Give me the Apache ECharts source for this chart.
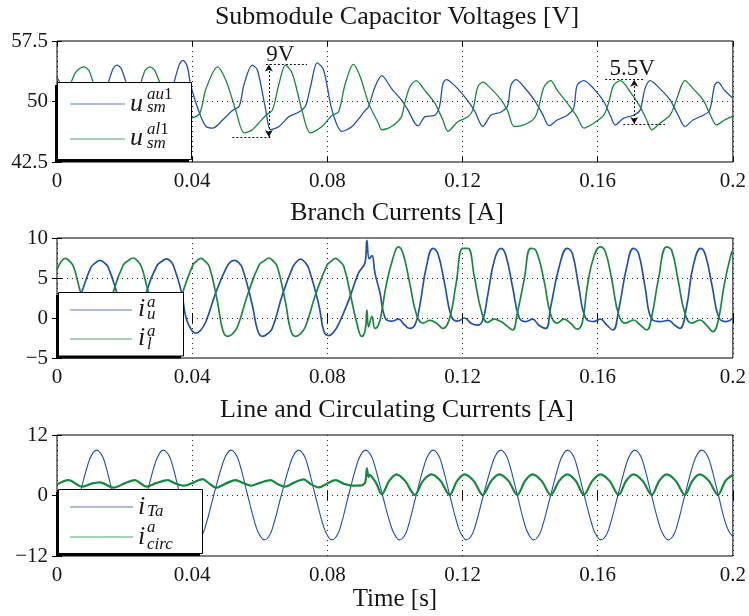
<!DOCTYPE html>
<html>
<head>
<meta charset="utf-8">
<script src="https://cdn.jsdelivr.net/npm/echarts@6/dist/echarts.min.js"></script>
<style>
  html, body { margin: 0; padding: 0; background: #fff; }
  #chart { width: 749px; height: 616px; }
</style>
</head>
<body>
<div id="chart"></div>
<script>
// ---- Tick labels -------------------------------------------------------
const timeTicks = [0, 0.04, 0.08, 0.12, 0.16, 0.2];
const capTicks = [42.5, 50, 57.5];
const branchTicks = [-5, 0, 5, 10];
const lineTicks = [-12, 0, 12];

// ---- Submodule capacitor voltages [V] -----------------------------------
const capUpperTime = [0, 0.003, 0.006, 0.009, 0.012, 0.0145, 0.0165, 0.0177, 0.019, 0.0215,
  0.025, 0.028, 0.031, 0.034, 0.0362, 0.0373, 0.0385, 0.0397, 0.0422, 0.0441,
  0.0461, 0.049, 0.052, 0.0539, 0.0554, 0.0578, 0.0593, 0.0618, 0.0632, 0.0657,
  0.0686, 0.0716, 0.0735, 0.075, 0.077, 0.0789, 0.0814, 0.0843, 0.0873, 0.0912,
  0.0921, 0.0941, 0.0961, 0.099, 0.1019, 0.1039, 0.1059, 0.1069, 0.1088, 0.1118,
  0.1132, 0.1142, 0.1152, 0.1176, 0.1206, 0.1235, 0.126, 0.1284, 0.1314, 0.1333,
  0.1343, 0.1358, 0.1382, 0.1412, 0.1436, 0.1456, 0.148, 0.151, 0.1529, 0.1539,
  0.1559, 0.1588, 0.1618, 0.1637, 0.1652, 0.1676, 0.1706, 0.1725, 0.174, 0.1755,
  0.1784, 0.1814, 0.1838, 0.1858, 0.1882, 0.1912, 0.1931, 0.1946, 0.1956, 0.1975,
  0.1995, 0.2];
const capUpper = [53.0, 50.6, 47.6, 46.4, 47.4, 51.3, 54.0, 54.5, 54.1, 51.0,
  47.5, 46.4, 47.6, 51.4, 54.6, 55.1, 54.4, 51.8, 48.5, 46.9,
  46.7, 47.7, 48.9, 49.4, 52.2, 54.5, 53.9, 48.9, 46.5, 46.9,
  48.1, 48.7, 49.4, 51.8, 54.8, 53.9, 48.9, 46.3, 46.9, 48.9,
  49.3, 51.8, 53.2, 51.6, 50.2, 48.9, 47.3, 47.0, 48.1, 48.3,
  49.4, 52.2, 52.7, 52.0, 50.6, 48.9, 46.9, 48.3, 48.7, 49.4,
  52.0, 52.7, 51.8, 50.2, 48.5, 47.0, 47.7, 48.3, 49.2, 52.0,
  52.6, 51.6, 50.0, 48.3, 47.1, 47.9, 48.3, 48.9, 51.6, 52.6,
  51.6, 50.2, 48.3, 46.9, 47.7, 48.3, 48.9, 52.0, 52.4, 51.4,
  50.6, 50.4];

const capLowerTime = [0, 0.003, 0.0055, 0.0079, 0.0095, 0.012, 0.015, 0.018, 0.021, 0.024,
  0.026, 0.0275, 0.029, 0.032, 0.035, 0.0375, 0.0397, 0.0422, 0.0441, 0.0475,
  0.05, 0.0529, 0.0554, 0.0578, 0.0618, 0.0637, 0.0657, 0.0676, 0.0696, 0.0725,
  0.075, 0.0784, 0.0814, 0.0833, 0.0853, 0.0877, 0.0897, 0.0922, 0.0951, 0.0961,
  0.099, 0.1019, 0.1029, 0.1044, 0.1063, 0.1088, 0.1118, 0.1142, 0.1157, 0.1186,
  0.1216, 0.123, 0.1245, 0.126, 0.1284, 0.1314, 0.1333, 0.1353, 0.1382, 0.1412,
  0.1426, 0.1441, 0.1461, 0.148, 0.151, 0.1539, 0.1559, 0.1588, 0.1618, 0.1632,
  0.1647, 0.1667, 0.1696, 0.1725, 0.1745, 0.176, 0.1784, 0.1814, 0.1833, 0.1848,
  0.1858, 0.1882, 0.1912, 0.1936, 0.1951, 0.1975, 0.1995, 0.2];
const capLower = [48.3, 51.0, 53.6, 54.3, 53.8, 50.5, 47.2, 46.3, 47.3, 51.0,
  53.8, 54.3, 53.8, 50.5, 47.5, 47.6, 47.9, 48.5, 51.6, 54.3,
  52.6, 48.9, 46.1, 46.5, 48.3, 48.9, 52.2, 54.5, 53.5, 48.9,
  46.1, 46.9, 48.3, 48.7, 52.2, 54.6, 53.1, 49.8, 47.3, 46.5,
  46.9, 48.1, 49.8, 51.8, 52.6, 51.4, 49.8, 47.7, 46.3, 47.5,
  48.1, 48.9, 51.8, 52.4, 51.6, 50.2, 48.9, 46.9, 47.1, 47.9,
  49.4, 51.8, 52.6, 51.4, 49.8, 48.1, 46.7, 47.3, 48.3, 49.8,
  52.0, 52.6, 51.2, 49.4, 47.7, 46.5, 47.3, 48.3, 50.2, 52.0,
  52.6, 51.6, 50.2, 48.1, 47.1, 47.7, 48.1, 48.2];

// ---- Branch currents [A] ------------------------------------------------
const branchUpperTime = [0, 0.0028, 0.0055, 0.0074, 0.01, 0.0114, 0.0127, 0.014, 0.0152, 0.0176,
  0.02, 0.0226, 0.0245, 0.0265, 0.0295, 0.0311, 0.0324, 0.0336, 0.0345, 0.0368,
  0.0382, 0.0398, 0.0412, 0.0426, 0.0441, 0.0471, 0.05, 0.0512, 0.0525, 0.0537,
  0.0549, 0.0578, 0.0594, 0.0608, 0.0622, 0.0637, 0.0667, 0.0696, 0.0708, 0.0721,
  0.0733, 0.0745, 0.0775, 0.079, 0.0804, 0.0818, 0.0833, 0.0863, 0.0892, 0.0912,
  0.0917, 0.0924, 0.0932, 0.0941, 0.0956, 0.0971, 0.099, 0.101, 0.1029, 0.1044,
  0.1059, 0.1073, 0.1093, 0.1113, 0.1127, 0.1147, 0.1167, 0.1186, 0.1206, 0.1225,
  0.1245, 0.126, 0.1274, 0.1294, 0.1314, 0.1328, 0.1348, 0.1368, 0.1387, 0.1407,
  0.1426, 0.1446, 0.1461, 0.1486, 0.151, 0.1525, 0.1544, 0.1564, 0.1588, 0.1608,
  0.1627, 0.1645, 0.1662, 0.1686, 0.1706, 0.1721, 0.174, 0.176, 0.1784, 0.1809,
  0.1828, 0.1843, 0.1863, 0.1882, 0.1905, 0.1919, 0.1939, 0.1959, 0.198, 0.2];
const branchUpper = [-1.5, -2.0, 0.6, 3.3, 6.3, 6.9, 7.2, 6.9, 6.3, 3.3,
  0.0, -2.0, -0.6, 3.3, 6.5, 7.1, 7.4, 7.1, 6.5, 3.3,
  0.0, -1.5, -1.9, -1.5, -0.4, 3.3, 6.2, 6.95, 7.2, 6.95,
  6.2, 1.6, -1.6, -2.3, -2.0, -1.3, 2.9, 6.2, 7.0, 7.35,
  7.0, 6.2, 1.6, -1.7, -2.2, -1.8, -0.8, 2.2, 5.6, 7.0,
  9.7, 7.4, 7.8, 5.6, 3.1, 0.0, -0.4, -0.15, -0.9, -1.3,
  -0.9, 1.4, 6.4, 8.7, 8.05, 4.3, 0.2, -0.4, 0.0, -0.65,
  -0.9, -0.25, 2.7, 7.2, 8.7, 7.85, 3.9, 0.0, -0.45, -0.15,
  -0.9, -1.3, 1.4, 6.4, 8.7, 8.05, 3.9, 0.0, -0.45, -0.15,
  -0.9, -1.5, 1.0, 6.4, 8.7, 8.05, 3.9, -0.15, -0.45, -0.3,
  -0.9, -1.3, 1.4, 6.4, 8.7, 7.85, 3.9, 0.0, -0.45, 0.0];

const branchLowerTime = [0, 0.0013, 0.0025, 0.0037, 0.0049, 0.0069, 0.0097, 0.0125, 0.0145, 0.0167,
  0.0196, 0.0212, 0.0225, 0.0238, 0.025, 0.027, 0.0298, 0.0325, 0.035, 0.0373,
  0.0402, 0.0414, 0.0426, 0.0438, 0.0451, 0.0475, 0.0491, 0.0505, 0.0519, 0.0534,
  0.0564, 0.0598, 0.0615, 0.0627, 0.064, 0.0652, 0.0676, 0.0692, 0.0706, 0.072,
  0.0735, 0.0765, 0.0799, 0.0812, 0.0824, 0.0836, 0.0849, 0.0873, 0.0887, 0.0902,
  0.0912, 0.0917, 0.0922, 0.0932, 0.0941, 0.0951, 0.096, 0.0975, 0.0995, 0.101,
  0.1024, 0.1044, 0.1064, 0.1083, 0.1103, 0.1123, 0.1142, 0.1162, 0.1181, 0.1201,
  0.1216, 0.1235, 0.1255, 0.1274, 0.1294, 0.1314, 0.1333, 0.1348, 0.1362, 0.1382,
  0.1402, 0.1417, 0.1441, 0.1461, 0.148, 0.15, 0.152, 0.1539, 0.1554, 0.1569,
  0.1588, 0.1608, 0.1623, 0.1642, 0.1662, 0.1681, 0.1706, 0.1725, 0.1745, 0.176,
  0.1779, 0.1804, 0.1819, 0.1838, 0.1858, 0.1878, 0.1902, 0.1921, 0.1941, 0.1956,
  0.1975, 0.1995, 0.2];
const branchLower = [6.0, 7.1, 7.45, 7.1, 6.4, 3.3, -0.5, -2.2, -0.6, 3.3,
  6.6, 7.2, 7.5, 7.15, 6.4, 3.3, -0.5, -2.2, -0.3, 3.3,
  6.6, 7.15, 7.45, 7.1, 6.4, 2.0, -1.6, -2.3, -2.0, -1.1,
  2.9, 6.6, 7.2, 7.5, 7.1, 6.4, 2.0, -1.6, -2.3, -2.0,
  -1.1, 2.9, 6.6, 7.1, 7.45, 7.1, 6.4, 2.0, -0.6, -2.3,
  -1.5, 1.0, -1.1, 0.2, -1.3, -0.9, 0.6, 4.3, 7.6, 8.9,
  8.05, 4.3, 0.4, -0.65, -0.3, -0.65, -1.3, 0.0, 4.3, 8.7,
  8.7, 5.15, 1.0, -0.55, -0.15, -0.45, -1.05, -1.5, 0.6, 4.7,
  8.7, 8.45, 4.7, 0.4, -0.65, -0.15, -0.65, -1.4, -0.65, 3.9,
  7.6, 8.9, 8.25, 4.7, 0.4, -0.65, -0.25, -0.85, -1.5, 0.2,
  4.7, 8.9, 8.45, 4.7, 0.6, -0.65, -0.25, -0.85, -1.7, -0.45,
  4.3, 8.05, 8.4];

// ---- Line and circulating currents [A] ----------------------------------
const lineCurrentTime = [0, 0.0017, 0.003, 0.0042, 0.0067, 0.0092, 0.0105, 0.0117, 0.013, 0.0142,
  0.0166, 0.0191, 0.0204, 0.0216, 0.0229, 0.0241, 0.0265, 0.029, 0.0303, 0.0315,
  0.0328, 0.034, 0.0364, 0.0389, 0.0402, 0.0414, 0.0427, 0.0439, 0.0464, 0.049,
  0.0503, 0.0515, 0.0528, 0.054, 0.0564, 0.0589, 0.0602, 0.0614, 0.0627, 0.0639,
  0.0664, 0.069, 0.0703, 0.0715, 0.0728, 0.074, 0.0764, 0.0789, 0.0802, 0.0814,
  0.0827, 0.0839, 0.0863, 0.0888, 0.0901, 0.0913, 0.0926, 0.0938, 0.0963, 0.0989,
  0.1002, 0.1014, 0.1027, 0.1039, 0.1063, 0.1088, 0.1101, 0.1113, 0.1126, 0.1138,
  0.1162, 0.1187, 0.12, 0.1212, 0.1225, 0.1237, 0.1262, 0.1288, 0.1301, 0.1313,
  0.1326, 0.1338, 0.1362, 0.1386, 0.1399, 0.1411, 0.1424, 0.1436, 0.1461, 0.1486,
  0.1499, 0.1511, 0.1524, 0.1536, 0.156, 0.1585, 0.1598, 0.161, 0.1623, 0.1635,
  0.166, 0.1685, 0.1698, 0.171, 0.1723, 0.1735, 0.1759, 0.1784, 0.1797, 0.1809,
  0.1822, 0.1834, 0.1858, 0.1883, 0.1896, 0.1908, 0.1921, 0.1933, 0.1957, 0.1982,
  0.2];
const lineCurrent = [-8.6, -8.8, -8.1, -6.2, 0.1, 6.3, 8.3, 9.0, 8.3, 6.4,
  0.1, -6.2, -8.1, -8.8, -8.1, -6.2, 0.1, 6.3, 8.3, 9.0,
  8.3, 6.4, 0.1, -6.2, -8.1, -8.8, -8.1, -6.2, 0.1, 6.3,
  8.3, 9.0, 8.3, 6.4, 0.1, -6.2, -8.1, -8.8, -8.1, -6.2,
  0.1, 6.3, 8.3, 9.0, 8.3, 6.4, 0.1, -6.2, -8.1, -8.8,
  -8.1, -6.2, 0.1, 6.3, 8.3, 9.0, 8.3, 6.4, 0.1, -6.2,
  -8.1, -8.8, -8.1, -6.2, 0.1, 6.3, 8.3, 9.0, 8.3, 6.4,
  0.1, -6.2, -8.1, -8.8, -8.1, -6.2, 0.1, 6.3, 8.3, 9.0,
  8.3, 6.4, 0.1, -6.2, -8.1, -8.8, -8.1, -6.2, 0.1, 6.3,
  8.3, 9.0, 8.3, 6.4, 0.1, -6.2, -8.1, -8.8, -8.1, -6.2,
  0.1, 6.3, 8.3, 9.0, 8.3, 6.4, 0.1, -6.2, -8.1, -8.8,
  -8.1, -6.2, 0.1, 6.3, 8.3, 9.0, 8.3, 6.4, 0.1, -6.2,
  -8.2];

const circTime = [0, 0.0034, 0.0074, 0.01, 0.0127, 0.0167, 0.02, 0.023, 0.0265, 0.0295,
  0.0328, 0.035, 0.0377, 0.0405, 0.0431, 0.045, 0.047, 0.05, 0.0529, 0.055,
  0.0574, 0.06, 0.0632, 0.0655, 0.0676, 0.07, 0.073, 0.075, 0.0775, 0.08,
  0.0824, 0.085, 0.0873, 0.09, 0.0912, 0.0917, 0.0922, 0.0926, 0.0935, 0.0945,
  0.0961, 0.0983, 0.1005, 0.103, 0.1059, 0.1083, 0.1108, 0.1135, 0.1162, 0.1184,
  0.1206, 0.1233, 0.126, 0.1285, 0.1309, 0.1336, 0.1362, 0.1385, 0.1407, 0.1434,
  0.1461, 0.1486, 0.151, 0.1535, 0.1559, 0.1584, 0.1608, 0.1635, 0.1662, 0.1684,
  0.1706, 0.1733, 0.176, 0.1782, 0.1804, 0.1831, 0.1858, 0.188, 0.1902, 0.1929,
  0.1956, 0.1978, 0.2];
const circ = [2.2, 3.05, 1.75, 2.3, 2.6, 1.55, 2.4, 3.05, 1.75, 2.5,
  3.05, 2.4, 1.95, 2.6, 3.25, 2.4, 1.55, 2.4, 3.05, 2.5,
  1.95, 2.5, 3.05, 2.2, 1.75, 2.5, 3.2, 2.3, 1.6, 2.4,
  3.05, 2.3, 1.95, 2.0, 2.6, 5.4, 3.7, 4.1, 3.4, 2.4,
  0.2, 2.9, 4.2, 2.9, 0.1, 2.9, 4.2, 2.9, 0.1, 2.9,
  4.2, 2.9, 0.1, 2.9, 4.2, 2.9, 0.1, 2.9, 4.2, 2.9,
  0.1, 2.9, 4.2, 2.9, 0.1, 2.9, 4.2, 2.9, 0.1, 2.9,
  4.2, 2.9, 0.1, 2.9, 4.2, 2.9, 0.1, 2.9, 4.2, 2.9,
  0.1, 2.9, 4.1];

// ---- Ripple markers on the capacitor plot -------------------------------
const rippleA = { label: '9V', t: 0.0627, low: 45.6, high: 54.6,
  highFrom: 0.0618, highTo: 0.074, lowFrom: 0.0519, lowTo: 0.0637, textAt: [0.0661, 55.8] };
const rippleB = { label: '5.5V', t: 0.1708, low: 47.2, high: 52.7,
  highFrom: 0.1622, highTo: 0.1735, lowFrom: 0.1676, lowTo: 0.1799, textAt: [0.1702, 54.0] };

// ---- Styling ------------------------------------------------------------
const FONT = '"Liberation Serif", "Times New Roman", serif';
const BLUE = '#2153a8';
const GREEN = '#17893f';
const INK = '#161616';

const zip = (ts, vs) => ts.map((t, i) => [t, vs[i]]);
const minus = v => String(v).replace('-', '\u2212');

const grids = [
  { left: 57, top: 41, width: 680, height: 121 },
  { left: 57, top: 238, width: 680, height: 120 },
  { left: 57, top: 435, width: 680, height: 121 }
].map(g => Object.assign(g, { show: true, borderColor: '#000', borderWidth: 1, backgroundColor: 'transparent' }));

const dotted = { type: [1, 4], color: '#222', width: 1 };

const xAxes = [];
[0, 1, 2].forEach(g => {
  xAxes.push({
    type: 'value', gridIndex: g, min: 0, max: 0.2, interval: 0.04, position: 'bottom',
    axisLine: { show: false },
    axisTick: { inside: true, length: 5, lineStyle: { color: '#000' } },
    axisLabel: { margin: 9, fontSize: 21, fontFamily: FONT, color: INK,
      formatter: v => String(+v.toFixed(2)) },
    splitLine: { show: true, lineStyle: dotted },
    name: g === 2 ? 'Time [s]' : '',
    nameLocation: 'middle', nameGap: 27,
    nameTextStyle: { fontSize: 25, fontFamily: FONT, color: INK }
  });
});
[0, 1, 2].forEach(g => {
  xAxes.push({
    type: 'value', gridIndex: g, min: 0, max: 0.2, interval: 0.04, position: 'top',
    axisLine: { show: false }, axisLabel: { show: false }, splitLine: { show: false },
    axisTick: { inside: true, length: 5, lineStyle: { color: '#000' } }
  });
});

const yRanges = [
  { min: 42.5, max: 57.5, ticks: capTicks },
  { min: -5, max: 10, interval: 5, ticks: branchTicks },
  { min: -12, max: 12, interval: 12, ticks: lineTicks }
];
const yAxes = [];
['left', 'right'].forEach(side => {
  yRanges.forEach((r, g) => {
    const ax = {
      type: 'value', gridIndex: g, min: r.min, max: r.max, position: side,
      axisLine: { show: false }, splitLine: { show: false },
      axisTick: { inside: true, length: 5, lineStyle: { color: '#000' }, customValues: r.ticks },
      axisLabel: { show: side === 'left', margin: 9, fontSize: 21, fontFamily: FONT, color: INK,
        formatter: minus, customValues: r.ticks }
    };
    if (r.interval) ax.interval = r.interval;
    yAxes.push(ax);
  });
});

// horizontal dotted grid lines at the inner ticks
const hGrid = vals => ({
  silent: true, symbol: ['none', 'none'], label: { show: false },
  lineStyle: dotted, data: vals.map(v => ({ yAxis: v }))
});

const annotDash = { type: [2, 2], color: '#111', width: 1 };
const rippleLines = r => [
  [{ coord: [r.highFrom, r.high] }, { coord: [r.highTo, r.high] }],
  [{ coord: [r.lowFrom, r.low] }, { coord: [r.lowTo, r.low] }],
  [{ coord: [r.t, r.low], symbol: 'arrow', symbolSize: [6, 7] },
   { coord: [r.t, r.high], symbol: 'arrow', symbolSize: [6, 7] }]
];

const lineSeries = (name, data, color, width, xi, yi, smooth, extra) => Object.assign({
  name, type: 'line', data, xAxisIndex: xi, yAxisIndex: yi,
  showSymbol: false, symbol: 'none', smooth, animation: false,
  lineStyle: { color, width }, itemStyle: { color }
}, extra || {});

const series = [
  lineSeries('u_sm^au1', zip(capUpperTime, capUpper), BLUE, 1.3, 0, 0, 0.3, { markLine: hGrid([50]) }),
  lineSeries('u_sm^al1', zip(capLowerTime, capLower), GREEN, 1.3, 0, 0, 0.3, {
    markLine: { silent: true, symbol: ['none', 'none'], label: { show: false }, lineStyle: annotDash,
      data: rippleLines(rippleA).concat(rippleLines(rippleB)) },
    markPoint: { silent: true, symbol: 'rect', symbolSize: 1, itemStyle: { color: 'rgba(0,0,0,0)' },
      label: { show: true, position: 'inside', formatter: '{b}', fontSize: 23, fontFamily: FONT, color: INK },
      data: [rippleA, rippleB].map(r => ({ name: r.label, coord: r.textAt })) }
  }),
  lineSeries('i_u^a', zip(branchUpperTime, branchUpper), BLUE, 1.7, 1, 1, 0.45, { markLine: hGrid([0, 5]) }),
  lineSeries('i_l^a', zip(branchLowerTime, branchLower), GREEN, 1.7, 1, 1, 0.45),
  lineSeries('i_Ta', zip(lineCurrentTime, lineCurrent), BLUE, 1.1, 2, 2, 0.5, { markLine: hGrid([0]) }),
  lineSeries('i_circ^a', zip(circTime, circ), GREEN, 2.2, 2, 2, 0.3)
];

// ---- Legend boxes with sub/superscripted symbols -------------------------
const txt = (x, y, text, size, italic) => ({
  type: 'text', x, y, z: 60,
  style: { text, fill: INK, verticalAlign: 'middle', align: 'left',
    font: (italic ? 'italic ' : '') + size + 'px ' + FONT }
});
const richTxt = (x, y, text) => ({
  type: 'text', x, y, z: 60,
  style: { text, fill: INK, verticalAlign: 'middle', align: 'left',
    rich: { i: { fontStyle: 'italic', fontSize: 17, fontFamily: FONT, fill: INK },
            n: { fontSize: 17, fontFamily: FONT, fill: INK } } }
});
const box = (x, y, w, h) => [
  { type: 'rect', z: 55, shape: { x: x - 2.5, y: y + 2.5, width: w, height: h }, style: { fill: '#000' } },
  { type: 'rect', z: 56, shape: { x, y, width: w, height: h }, style: { fill: '#fff', stroke: '#000', lineWidth: 1 } }
];
const sample = (x1, x2, y, color) => ({
  type: 'line', z: 58, shape: { x1, y1: y, x2, y2: y },
  style: { stroke: color, lineWidth: 1.1, opacity: 0.75 }
});

const graphic = [].concat(
  box(57.5, 82.5, 134, 77),
  [sample(70, 125, 104, BLUE), sample(70, 125, 139, GREEN),
   txt(130, 104, 'u', 26, true), richTxt(147, 94.6, '{i|au}{n|1}'), txt(147, 108, 'sm', 17, true),
   txt(130, 138.4, 'u', 26, true), richTxt(147, 129.6, '{i|al}{n|1}'), txt(147, 143.6, 'sm', 17, true)],
  box(58.5, 292.5, 125, 63.5),
  [sample(70, 132, 310, BLUE), sample(70, 132, 339, GREEN),
   txt(138, 309.4, 'i', 26, true), txt(147, 302.3, 'a', 17, true), txt(147, 314.6, 'u', 17, true),
   txt(138, 338.4, 'i', 26, true), txt(147, 331.3, 'a', 17, true), txt(147, 344.6, 'l', 17, true)],
  box(58.5, 489.5, 144, 64),
  [sample(70, 133, 507, BLUE), sample(70, 133, 537, GREEN),
   txt(138, 506.7, 'i', 26, true), txt(147, 511.3, 'Ta', 17, true),
   txt(138, 536.7, 'i', 26, true), txt(147, 527.9, 'a', 17, true), txt(147, 544.6, 'circ', 17, true)]
);

const titleStyle = { fontSize: 26, fontWeight: 'normal', fontFamily: FONT, color: INK };
const titles = [
  { text: 'Submodule Capacitor Voltages [V]', top: 4 },
  { text: 'Branch Currents [A]', top: 200 },
  { text: 'Line and Circulating Currents [A]', top: 397 }
].map(t => Object.assign(t, { left: 397, textAlign: 'center', padding: 0, textStyle: titleStyle }));

const chart = echarts.init(document.getElementById('chart'), null, { renderer: 'canvas' });
chart.setOption({
  backgroundColor: '#fff',
  animation: false,
  title: titles,
  grid: grids,
  xAxis: xAxes,
  yAxis: yAxes,
  series,
  graphic
});
</script>
</body>
</html>
